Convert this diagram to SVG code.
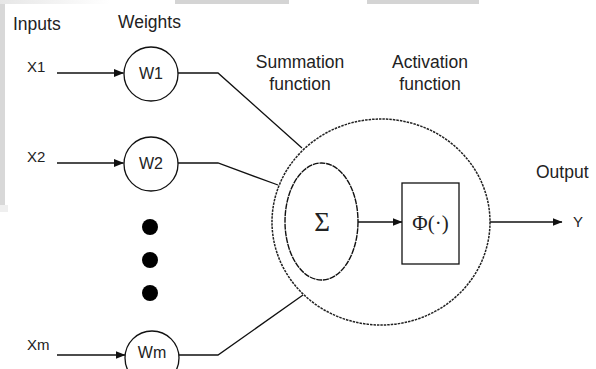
<svg xmlns="http://www.w3.org/2000/svg" width="596" height="369" viewBox="0 0 596 369">
<style>
  .t{font-family:"Liberation Sans",Arial,sans-serif;fill:#222}
  .h{font-size:17.5px}
  .x{font-size:15px}
  .w{font-size:16px;text-anchor:middle}
  .m{font-family:"Liberation Serif","Times New Roman",serif;fill:#222}
  .ln{fill:none;stroke:#111;stroke-width:1.3}
  .node{fill:#fff;stroke:#111;stroke-width:1.3}
  .dash{fill:none;stroke:#222;stroke-width:1.5;stroke-dasharray:2.5 1}
</style>
<defs>
  <linearGradient id="fade" x1="0" x2="1" y1="0" y2="0">
    <stop offset="0" stop-color="#e6e6e6"/>
    <stop offset="1" stop-color="#ffffff"/>
  </linearGradient>
  <marker id="ah" markerWidth="10" markerHeight="8" refX="9.5" refY="4" orient="auto" markerUnits="userSpaceOnUse">
    <path d="M0,0 L10,4 L0,8 z" fill="#111"/>
  </marker>
</defs>
<rect x="0" y="0" width="596" height="369" fill="#fff"/>
<g id="scan-edges">
  <rect x="0" y="0" width="110" height="4" fill="url(#fade)"/>
  <rect x="175" y="0" width="114" height="4" fill="#d4d4d4"/>
  <rect x="367" y="0" width="112" height="4" fill="#d4d4d4"/>
  <rect x="0" y="4" width="5" height="201" fill="#d8d8d8"/>
  <rect x="0" y="205" width="8" height="7" fill="#efefef"/>
</g>
<g id="headings">
  <text class="t h" x="13" y="30">Inputs</text>
  <text class="t h" x="118" y="28">Weights</text>
  <text class="t h" x="300" y="68" text-anchor="middle">Summation</text>
  <text class="t h" x="300" y="90" text-anchor="middle">function</text>
  <text class="t h" x="430" y="68" text-anchor="middle">Activation</text>
  <text class="t h" x="430" y="90" text-anchor="middle">function</text>
  <text class="t h" x="536" y="178">Output</text>
</g>
<g id="connectors">
  <line class="ln" x1="57" y1="73" x2="123.5" y2="73" marker-end="url(#ah)"/>
  <line class="ln" x1="57" y1="163" x2="123.5" y2="163" marker-end="url(#ah)"/>
  <line class="ln" x1="57" y1="355" x2="125" y2="355" marker-end="url(#ah)"/>
  <polyline class="ln" points="178,73 218,73 302,148"/>
  <polyline class="ln" points="178,163 218,163 278,185"/>
  <polyline class="ln" points="179,355 218,355 303,295"/>
  <line class="ln" x1="358" y1="222" x2="402" y2="222" marker-end="url(#ah)"/>
  <line class="ln" x1="490" y1="222" x2="562" y2="222" marker-end="url(#ah)"/>
</g>
<g id="x1"><text class="t x" x="27" y="72">X1</text></g>
<g id="x2"><text class="t x" x="27" y="162">X2</text></g>
<g id="xm"><text class="t x" x="27" y="350">Xm</text></g>
<g id="w1">
  <circle class="node" cx="151" cy="74" r="27"/>
  <text class="t w" x="151" y="78.5">W1</text>
</g>
<g id="w2">
  <circle class="node" cx="151" cy="164" r="27"/>
  <text class="t w" x="151" y="169">W2</text>
</g>
<g id="ellipsis">
  <circle cx="150" cy="227" r="8" fill="#000"/>
  <circle cx="150" cy="260" r="8" fill="#000"/>
  <circle cx="150" cy="293" r="8" fill="#000"/>
</g>
<g id="wm">
  <circle class="node" cx="152" cy="358" r="27"/>
  <text class="t w" x="152" y="358">Wm</text>
</g>
<g id="neuron">
  <ellipse class="dash" cx="381" cy="222" rx="109" ry="103"/>
</g>
<g id="summation">
  <ellipse cx="321.5" cy="221.5" rx="36.5" ry="58.5" fill="none" stroke="#111" stroke-width="1.4" stroke-dasharray="6 0.8"/>
  <text class="m" x="322" y="231" font-size="27" text-anchor="middle">Σ</text>
</g>
<g id="activation">
  <rect x="402" y="183" width="57" height="81" fill="#fff" stroke="#111" stroke-width="1.3"/>
  <text class="m" x="430.5" y="230" font-size="21" text-anchor="middle">Φ(·)</text>
</g>
<g id="output">
  <text class="t" x="573" y="227" font-size="15">Y</text>
</g>
</svg>
